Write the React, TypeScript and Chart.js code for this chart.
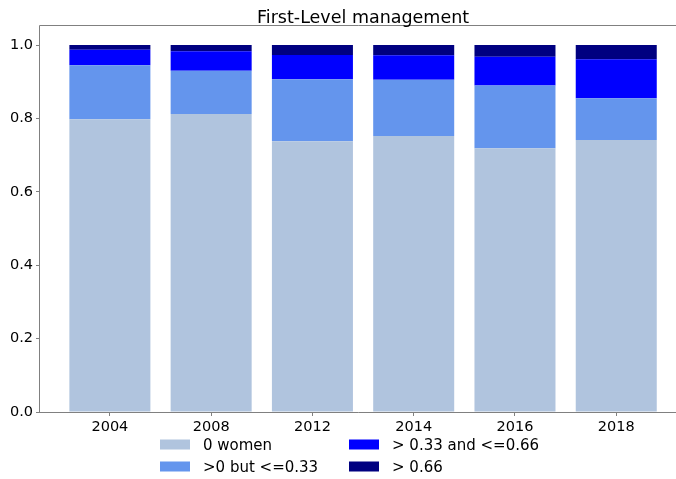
import React, { useEffect, useRef } from "react";
import { Chart, registerables } from "chart.js";

Chart.register(...registerables);

const years = ["2004", "2008", "2012", "2014", "2016", "2018"];
const zeroWomen = [0.798, 0.812, 0.738, 0.752, 0.719, 0.741];
const upToThird = [0.147, 0.118, 0.169, 0.153, 0.171, 0.114];
const upToTwoThirds = [0.042, 0.053, 0.066, 0.067, 0.078, 0.106];
const aboveTwoThirds = [0.013, 0.017, 0.027, 0.028, 0.032, 0.039];
const seriesNames = ["0 women", ">0 but <=0.33", "> 0.33 and <=0.66", "> 0.66"];
const seriesColors = ["#B0C4DE", "#6495ED", "#0000FF", "#000080"];
const yTicks = [0, 0.2, 0.4, 0.6, 0.8, 1.0];
const titleText = "First-Level management";

const FONT = "'DejaVu Sans', sans-serif";
const SPINE = "#808080";

export default function App() {
  const ref = useRef<HTMLCanvasElement | null>(null);

  useEffect(() => {
    document.body.style.margin = "0";
    const canvas = ref.current;
    if (!canvas) return;
    const all = [zeroWomen, upToThird, upToTwoThirds, aboveTwoThirds];

    const overlay = {
      id: "overlay",
      afterDraw(chart: any) {
        const ctx = chart.ctx;
        const a = chart.chartArea;
        const xs = chart.scales.x;
        ctx.save();
        // spines
        ctx.strokeStyle = SPINE;
        ctx.lineWidth = 1;
        ctx.beginPath();
        ctx.moveTo(a.left - 0.5, a.bottom + 0.5);
        ctx.lineTo(a.left - 0.5, a.top - 0.5);
        ctx.lineTo(a.right + 20, a.top - 0.5);
        ctx.moveTo(a.left - 0.5, a.bottom + 0.5);
        ctx.lineTo(a.right + 20, a.bottom + 0.5);
        ctx.stroke();
        // title centered on full (uncropped) axes
        const cx = (xs.getPixelForValue(-0.69) + xs.getPixelForValue(5.69)) / 2;
        ctx.fillStyle = "#000";
        ctx.font = `17.5px ${FONT}`;
        ctx.textAlign = "center";
        ctx.textBaseline = "alphabetic";
        ctx.fillText(titleText, cx, a.top - 3);
        // legend (2 columns, column-major)
        ctx.font = `15px ${FONT}`;
        ctx.textAlign = "left";
        ctx.textBaseline = "middle";
        const colX = [160, 349];
        const rowY = [444.5, 466.5];
        seriesNames.forEach((name, i) => {
          const c = Math.floor(i / 2);
          const r = i % 2;
          ctx.fillStyle = seriesColors[i];
          ctx.fillRect(colX[c], rowY[r] - 5, 30, 10);
          ctx.fillStyle = "#000";
          ctx.fillText(name, colX[c] + 43, rowY[r] + 2);
        });
        ctx.restore();
      },
    };

    const chart = new Chart(canvas, {
      type: "bar",
      data: {
        datasets: all.map((vals, k) => ({
          label: seriesNames[k],
          data: vals.map((v, i) => ({ x: i, y: v })),
          backgroundColor: seriesColors[k],
          borderWidth: 0,
          barPercentage: 0.8,
          categoryPercentage: 1,
        })),
      },
      options: {
        animation: false,
        responsive: false,
        layout: { padding: { top: 26, left: 0, right: 0, bottom: 0 } },
        plugins: {
          legend: { display: false },
          title: { display: false },
          tooltip: { enabled: false },
        },
        scales: {
          x: {
            type: "linear",
            stacked: true,
            offset: false,
            min: -0.69,
            max: 5.59,
            afterBuildTicks: (s: any) => {
              s.ticks = years.map((_, i) => ({ value: i }));
            },
            afterFit: (s: any) => {
              s.height = 67;
            },
            ticks: {
              callback: (v: any) => years[v] ?? "",
              font: { family: FONT, size: 14.5 },
              color: "#000",
              padding: 3,
              maxRotation: 0,
              autoSkip: false,
            },
            grid: { drawOnChartArea: false, drawTicks: true, tickLength: 4, color: SPINE, offset: false },
            border: { display: false },
          },
          y: {
            stacked: true,
            min: 0,
            max: 1.0518,
            afterBuildTicks: (s: any) => {
              s.ticks = yTicks.map((v) => ({ value: v }));
            },
            afterFit: (s: any) => {
              s.width = 40;
            },
            ticks: {
              callback: (v: any) => Number(v).toFixed(1),
              font: { family: FONT, size: 14.5 },
              color: "#000",
              padding: 3,
            },
            grid: { drawOnChartArea: false, drawTicks: true, tickLength: 4, color: SPINE },
            border: { display: false },
          },
        },
      },
      plugins: [overlay],
    } as any);

    return () => chart.destroy();
  }, []);

  return (
    <div style={{ width: 676, height: 479 }}>
      <canvas ref={ref} width={676} height={479} style={{ width: 676, height: 479, display: "block" }} />
    </div>
  );
}
